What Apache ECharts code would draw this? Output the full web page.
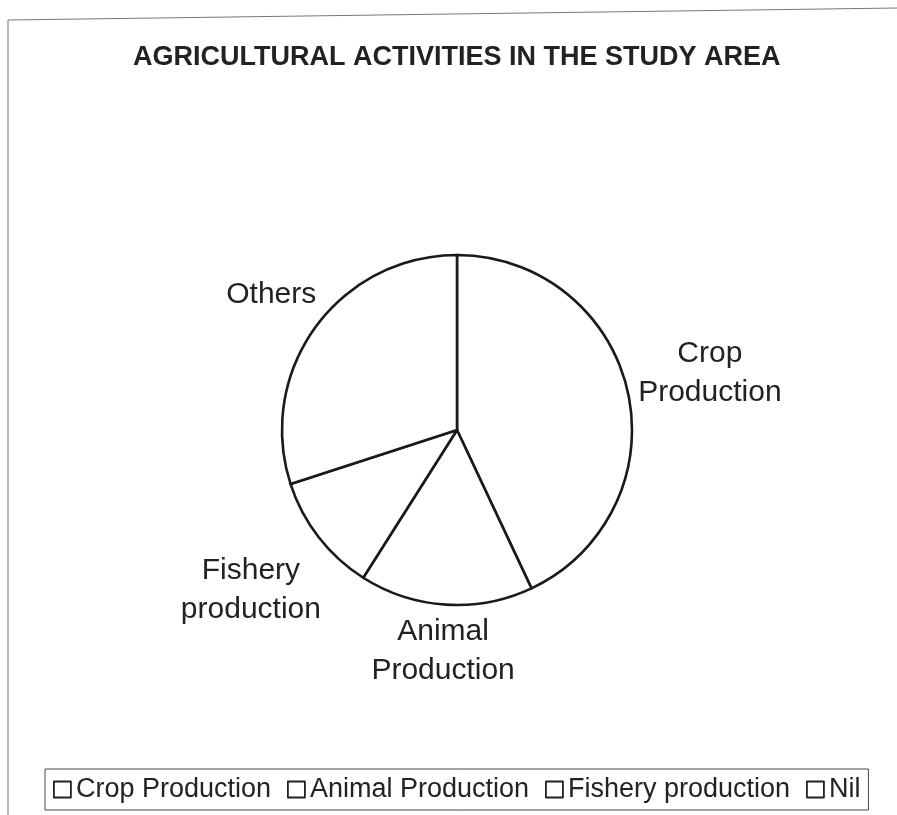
<!DOCTYPE html>
<html><head><meta charset="utf-8">
<script src="https://cdn.jsdelivr.net/npm/echarts@6/dist/echarts.min.js"></script>
<style>html,body{margin:0;padding:0;background:#fff}#c{width:897px;height:815px}</style>
</head><body><div id="c"></div>
<script>
const titleText = 'AGRICULTURAL ACTIVITIES IN THE STUDY AREA';
const categories = ['Crop Production', 'Animal Production', 'Fishery production', 'Nil'];
const sliceLabels = ['Crop\nProduction', 'Animal\nProduction', 'Fishery\nproduction', 'Others'];
const values = [43, 16, 11, 30];

const FONT = '"Liberation Sans", Arial, sans-serif';
const CX = 457, CY = 430, R = 175, GAP = 7;
const total = values.reduce((a, b) => a + b, 0);
function midAngle(i) {
  let c = 0;
  for (let k = 0; k < i; k++) c += values[k];
  return (c + values[i] / 2) / total * 2 * Math.PI;
}
// distance from pie centre to the nearest point of a label box centred at d*u
function nearest(d, ux, uy, w, h) {
  const bx = d * ux, by = d * uy;
  const px = Math.max(bx - w, Math.min(0, bx + w));
  const py = Math.max(by - h, Math.min(0, by + h));
  return Math.hypot(px, py);
}

const chart = echarts.init(document.getElementById('c'), null, { renderer: 'canvas' });
chart.setOption({
  backgroundColor: '#fff',
  animation: false,
  title: {
    text: titleText, left: 128, top: 39,
    textStyle: { fontFamily: FONT, fontSize: 27, fontWeight: 'bold', color: '#222' }
  },
  legend: {
    data: categories, left: 45, top: 769, orient: 'horizontal', icon: 'rect',
    itemWidth: 17, itemHeight: 16, itemGap: 16, padding: [7, 8],
    borderColor: '#444', borderWidth: 1, selectedMode: false,
    itemStyle: { color: '#fff', borderColor: '#222', borderWidth: 1.8 },
    textStyle: { fontFamily: FONT, fontSize: 27, color: '#222' }
  },
  graphic: [{
    type: 'polyline', silent: true,
    shape: { points: [[8, 815], [8, 20], [897, 8]] },
    style: { stroke: '#777', lineWidth: 1, fill: 'none' }
  }],
  series: [{
    type: 'pie', center: [CX, CY], radius: R, startAngle: 90, clockwise: true,
    avoidLabelOverlap: false,
    data: categories.map((n, i) => ({ name: n, value: values[i] })),
    itemStyle: { color: '#fff', borderColor: '#1a1a1a', borderWidth: 2.6 },
    label: {
      show: true, position: 'outside', formatter: p => sliceLabels[p.dataIndex],
      fontFamily: FONT, fontSize: 30, lineHeight: 39, color: '#222'
    },
    labelLine: { show: false },
    emphasis: { disabled: true },
    labelLayout: function (p) {
      const a = midAngle(p.dataIndex);
      const ux = Math.sin(a), uy = -Math.cos(a);
      const w = p.labelRect.width / 2, h = p.labelRect.height / 2;
      let lo = R, hi = R + 3 * (w + h);
      for (let k = 0; k < 40; k++) {
        const mid = (lo + hi) / 2;
        if (nearest(mid, ux, uy, w, h) < R + GAP) lo = mid; else hi = mid;
      }
      const d = (lo + hi) / 2;
      return { x: CX + ux * d, y: CY + uy * d, align: 'center', verticalAlign: 'middle' };
    }
  }]
});
</script>
</body></html>
